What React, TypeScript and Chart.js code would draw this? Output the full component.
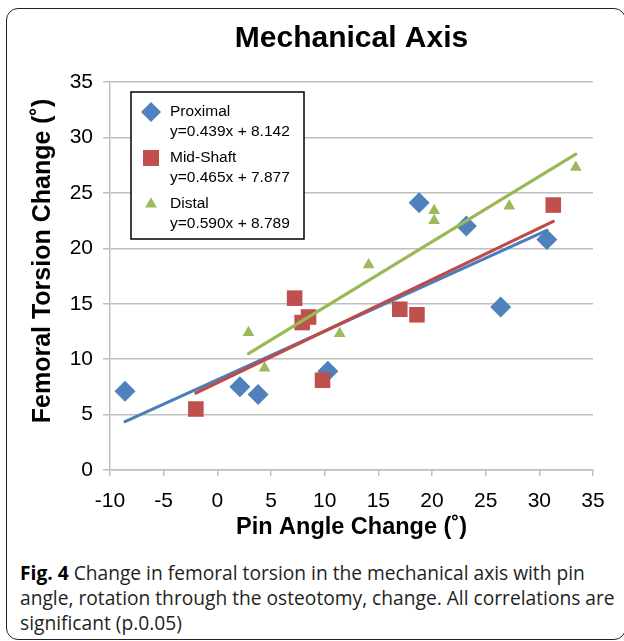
import React, { useEffect, useRef } from 'react';
import { Chart, registerables } from 'chart.js';

Chart.register(...registerables);

// ---- Data ----
const seriesNames = ['Proximal', 'Mid-Shaft', 'Distal'];
const proximalX = [-8.6, 2.1, 3.8, 10.3, 18.8, 23.2, 26.4, 30.7];
const proximalY = [7.1, 7.5, 6.8, 8.9, 24.1, 22.0, 14.7, 20.8];
const midShaftX = [-2.0, 7.2, 7.9, 8.5, 9.8, 17.0, 18.6, 31.3];
const midShaftY = [5.5, 15.5, 13.3, 13.8, 8.1, 14.5, 14.0, 23.9];
const distalX = [2.9, 4.4, 11.4, 14.1, 20.2, 20.2, 27.2, 33.4];
const distalY = [12.4, 9.2, 12.3, 18.5, 23.4, 22.5, 23.8, 27.3];
const trendSlopes = [0.439, 0.465, 0.59];
const trendIntercepts = [8.142, 7.877, 8.789];
const xTickValues = [-10, -5, 0, 5, 10, 15, 20, 25, 30, 35];
const yTickValues = [0, 5, 10, 15, 20, 25, 30, 35];

const chartTitle = 'Mechanical Axis';
const xAxisTitle = 'Pin Angle Change (˚)';
const yAxisTitle = 'Femoral Torsion Change (˚)';

const markerColors = ['#4F81BD', '#C0504D', '#9BBB59'];
const lineColors = ['#4A7EBB', '#BE4B48', '#98B954'];
const FONT = '"Liberation Sans", Arial, Helvetica, sans-serif';

const xsList = [proximalX, midShaftX, distalX];
const ysList = [proximalY, midShaftY, distalY];

const equationText = (i: number) =>
  `y=${trendSlopes[i].toFixed(3)}x + ${trendIntercepts[i].toFixed(3)}`;

function drawMarker(ctx: CanvasRenderingContext2D, kind: number, x: number, y: number) {
  ctx.beginPath();
  if (kind === 0) {
    const r = 10;
    ctx.moveTo(x, y - r);
    ctx.lineTo(x + r, y);
    ctx.lineTo(x, y + r);
    ctx.lineTo(x - r, y);
    ctx.closePath();
  } else if (kind === 1) {
    const h = 8;
    ctx.rect(x - h, y - h, 2 * h, 2 * h);
  } else {
    const r = 6.8;
    ctx.moveTo(x, y - r);
    ctx.lineTo(x + r * 0.866, y + r / 2);
    ctx.lineTo(x - r * 0.866, y + r / 2);
    ctx.closePath();
  }
  ctx.fillStyle = markerColors[kind];
  ctx.fill();
}

const customPlugin = {
  id: 'customDecor',
  afterDraw(chart: any) {
    const { ctx, chartArea } = chart;
    // y axis title
    ctx.save();
    ctx.translate(43, (chartArea.top + chartArea.bottom) / 2 - 15);
    ctx.rotate(-Math.PI / 2);
    ctx.font = `bold 25px ${FONT}`;
    ctx.fillStyle = '#000';
    ctx.textAlign = 'center';
    ctx.textBaseline = 'middle';
    ctx.fillText(yAxisTitle, 0, 0);
    ctx.restore();

    // legend box
    const lx = chartArea.left + 21;
    const ly = chartArea.top + 10;
    const lw = 173;
    const lh = 147;
    ctx.save();
    ctx.fillStyle = '#fff';
    ctx.fillRect(lx, ly, lw, lh);
    ctx.strokeStyle = '#000';
    ctx.lineWidth = 1.5;
    ctx.strokeRect(lx, ly, lw, lh);
    ctx.font = `15.5px ${FONT}`;
    ctx.textAlign = 'left';
    ctx.textBaseline = 'middle';
    for (let i = 0; i < seriesNames.length; i++) {
      const rowY = ly + 20 + i * 46;
      drawMarker(ctx, i, lx + 20, rowY);
      ctx.fillStyle = '#000';
      ctx.fillText(seriesNames[i], lx + 39, rowY);
      ctx.fillText(equationText(i), lx + 39, rowY + 19.5);
    }
    ctx.restore();
  },
};

export default function App() {
  const canvasRef = useRef<HTMLCanvasElement | null>(null);

  useEffect(() => {
    if (!canvasRef.current) return;
    const pointStyles = ['rectRot', 'rect', 'triangle'];
    const pointRadii = [10.5, 11, 6.8];
    const scatterSets = seriesNames.map((name, i) => ({
      label: name,
      data: xsList[i].map((x, j) => ({ x, y: ysList[i][j] })),
      backgroundColor: markerColors[i],
      borderColor: markerColors[i],
      pointStyle: pointStyles[i],
      pointRadius: pointRadii[i],
      pointBorderWidth: 0,
      showLine: false,
      order: 3 - i,
    }));
    const trendSets = seriesNames.map((name, i) => {
      const xs = xsList[i];
      const x0 = Math.min(...xs);
      const x1 = Math.max(...xs);
      return {
        label: name + ' trend',
        data: [
          { x: x0, y: trendSlopes[i] * x0 + trendIntercepts[i] },
          { x: x1, y: trendSlopes[i] * x1 + trendIntercepts[i] },
        ],
        borderColor: lineColors[i],
        backgroundColor: lineColors[i],
        borderWidth: 3.2,
        borderCapStyle: 'round',
        pointRadius: 0,
        showLine: true,
        order: 0.3 - i * 0.1,
      };
    });

    const chart = new Chart(canvasRef.current, {
      type: 'scatter',
      data: { datasets: [...scatterSets, ...trendSets] as any },
      options: {
        animation: false,
        responsive: false,
        layout: { padding: { left: 0, right: 31, top: 0, bottom: 0 } },
        plugins: {
          legend: { display: false },
          tooltip: { enabled: false },
          title: {
            display: true,
            text: chartTitle,
            fullSize: false,
            color: '#000',
            font: { family: FONT, size: 30, weight: 'bold', lineHeight: 1.2 },
            padding: { top: 20.5, bottom: 25.5 },
          },
        },
        scales: {
          x: {
            type: 'linear',
            min: xTickValues[0],
            max: xTickValues[xTickValues.length - 1],
            afterBuildTicks: (s: any) => {
              s.ticks = xTickValues.map((v) => ({ value: v }));
            },
            ticks: {
              color: '#000',
              font: { family: FONT, size: 21 },
              padding: 13,
              maxRotation: 0,
            },
            grid: {
              drawOnChartArea: false,
              drawTicks: true,
              tickLength: 6,
              color: '#BFBFBF',
              lineWidth: 1.5,
            },
            border: { color: '#BFBFBF', width: 1.5 },
            title: {
              display: true,
              text: xAxisTitle,
              color: '#000',
              font: { family: FONT, size: 23.5, weight: 'bold', lineHeight: 1.2 },
              padding: { top: 4, bottom: 8 },
            },
            afterFit: (s: any) => {
              s.height = 80;
            },
          },
          y: {
            type: 'linear',
            min: yTickValues[0],
            max: yTickValues[yTickValues.length - 1],
            afterBuildTicks: (s: any) => {
              s.ticks = yTickValues.map((v) => ({ value: v }));
            },
            ticks: {
              color: '#000',
              font: { family: FONT, size: 21 },
              padding: 10,
            },
            grid: {
              drawOnChartArea: true,
              drawTicks: true,
              tickLength: 7,
              color: '#BFBFBF',
              lineWidth: 1.5,
            },
            border: { color: '#BFBFBF', width: 1.5 },
            afterFit: (s: any) => {
              s.width = 110;
            },
          },
        },
      } as any,
      plugins: [customPlugin],
    });
    return () => chart.destroy();
  }, []);

  return (
    <div
      style={{
        position: 'absolute',
        left: 0,
        top: 0,
        width: 624,
        height: 641,
        overflow: 'hidden',
        background: '#fff',
      }}
    >
      <div
        style={{
          position: 'absolute',
          left: 6,
          top: 8,
          width: 620,
          height: 632,
          boxSizing: 'border-box',
          border: '1.8px solid #222',
          borderRadius: 12,
        }}
      />
      <canvas
        ref={canvasRef}
        width={624}
        height={550}
        style={{ position: 'absolute', left: 0, top: 0, width: 624, height: 550 }}
      />
      <div
        style={{
          position: 'absolute',
          left: 20,
          top: 560,
          fontFamily: '"Open Sans", "Noto Sans", sans-serif',
          fontSize: 19.2,
          lineHeight: '25px',
          color: '#231f20',
          whiteSpace: 'nowrap',
        }}
      >
        <b style={{ color: '#000' }}>Fig. 4</b> Change in femoral torsion in the mechanical axis with pin
        <br />
        angle, rotation through the osteotomy, change. All correlations are
        <br />
        significant (p.0.05)
      </div>
    </div>
  );
}
